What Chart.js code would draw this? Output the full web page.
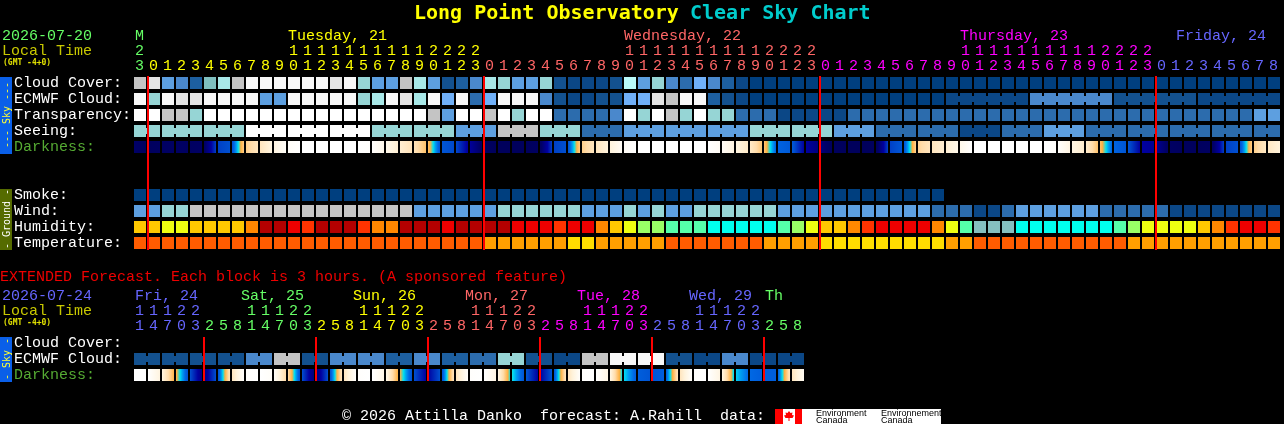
<!DOCTYPE html>
<html>
<head>
<meta charset="utf-8">
<title>Long Point Observatory Clear Sky Chart</title>
<script src="https://cdn.jsdelivr.net/npm/chart.js@4"></script>
<style>html,body{margin:0;padding:0;background:#000}canvas{display:block}</style>
</head>
<body>
<canvas id="c" width="1284" height="424"></canvas>
<script>
// ---------- hours along the two time axes ----------
const mainHours = [23,0,1,2,3,4,5,6,7,8,9,10,11,12,13,14,15,16,17,18,19,20,21,22,23,
  0,1,2,3,4,5,6,7,8,9,10,11,12,13,14,15,16,17,18,19,20,21,22,23,
  0,1,2,3,4,5,6,7,8,9,10,11,12,13,14,15,16,17,18,19,20,21,22,23,
  0,1,2,3,4,5,6,7,8];
const extHours = [11,14,17,20,23,2,5,8,11,14,17,20,23,2,5,8,11,14,17,20,23,2,5,8,
  11,14,17,20,23,2,5,8,11,14,17,20,23,2,5,8,11,14,17,20,23,2,5,8];
const mainDays = ["M","Tuesday, 21","Wednesday, 22","Thursday, 23","Friday, 24"];
const extDays = ["Fri, 24","Sat, 25","Sun, 26","Mon, 27","Tue, 28","Wed, 29","Th"];
const skyRows = ["Cloud Cover:","ECMWF Cloud:","Transparency:","Seeing:","Darkness:"];
const groundRows = ["Smoke:","Wind:","Humidity:","Temperature:"];
const extRows = ["Cloud Cover:","ECMWF Cloud:","Darkness:"];

// ---------- hourly series (levels) ----------
const cloudCover = [12,13,6,5,3,8,10,12,14,14,14,14,14,14,13,14,9,6,6,12,10,6,2,3,5,10,9,6,6,9,2,1,1,1,2,11,6,9,5,4,7,5,3,1,
  0,0,0,0,0,0,0,0,0,0,0,0,0,0,0,0,0,0,0,0,0,0,0,0,0,0,0,0,0,0,0,0,0,0,0,0,0,0];
const ecmwfCloud = [14,9,14,13,13,14,14,14,14,6,6,14,14,14,14,14,9,10,14,13,10,14,7,14,4,7,14,14,14,5,2,1,1,2,2,7,7,13,12,14,14,3,2,1,
  0,0,0,0,0,0,0,0,0,0,0,0,0,0,1,1,1,1,1,1,5,5,5,5,5,5,2,2,2,2,2,2,1,1,1,1,1,1];
const transparency = [15,15,12,12,9,15,15,15,15,15,15,15,15,15,15,15,15,15,15,15,15,12,6,15,15,12,15,9,15,15,4,4,4,4,5,15,9,15,12,9,15,9,9,4,4,4,1,1,1,1,1,4,
  4,4,4,4,4,4,4,4,4,4,4,4,4,4,4,4,4,4,4,4,4,4,4,4,4,4,4,4,6,6];
const seeing = [9,9,9,9,9,9,9,9,15,15,15,15,15,15,15,15,15,9,9,9,9,9,9,6,6,6,12,12,12,9,9,9,4,4,4,6,6,6,6,6,6,6,6,6,9,9,9,9,9,9,6,6,6,
  4,4,4,4,4,4,1,1,1,4,4,4,6,6,6,4,4,4,4,4,4,4,4,4,4,4,4,4,4];
const darknessEdges = [7.0,7.4,7.3,7.2,7.3,7.2,5.2,5.0,2.3,1.6,0.9,0.2,0,0,0,0,0,0.1,0.6,1.2,1.7,2.6,4.9,5.1,6.1,7.2,7.5,7.5,7.5,7.3,5.2,5.0,2.3,1.6,1.0,0.3,0,0,0,0,0,0,0.3,0.9,1.4,2.5,4.6,4.8,6.0,6.6,7.4,7.5,7.5,7.4,5.2,4.9,2.2,1.6,1.2,0.6,0,0,0,0,0,0,0.1,0.8,1.3,2.6,4.6,4.9,6.0,6.2,7.2,7.4,7.4,7.3,5.2,5.0,2.3,1.5,1.0];
const smoke = [0,0,0,0,0,0,0,0,0,0,0,0,0,0,0,0,0,0,0,0,0,0,0,0,0,0,0,0,0,0,0,0,0,0,0,0,0,0,0,0,0,0,0,0,0,0,0,0,0,0,0,0,0,0,0,0,0,0];
const wind = [6,6,9,9,12,12,12,12,12,12,12,12,12,12,12,12,12,12,12,12,6,6,6,6,6,6,9,9,9,9,9,9,6,6,6,9,6,9,6,6,9,9,9,9,9,9,6,6,6,6,6,6,6,6,6,6,6,4,4,4,1,1,4,6,6,6,6,6,6,4,4,4,4,4,1,1,1,1,1,1,1,1];
const humidity = [5,5,4,4,5,5,5,5,6,9,9,8,7,9,9,9,7,6,6,9,9,9,8,9,9,9,9,8,8,8,7,8,8,6,5,4,3,3,2,2,2,1,1,1,1,1,2,3,4,5,5,6,7,8,8,8,8,6,4,2,0,0,0,1,1,1,1,1,1,1,2,3,4,4,4,4,5,6,7,8,8,7];
const temperature = [0,0,0,0,0,0,0,0,0,0,0,0,0,0,0,0,0,0,0,0,0,0,0,0,0,1,1,1,1,1,1,2,2,1,1,1,1,1,0,0,0,0,0,0,0,1,1,1,1,2,2,2,2,2,2,2,2,2,1,1,0,0,0,0,0,0,0,0,0,0,0,1,1,1,1,1,1,1,1,1,1,1];

// ---------- three-hourly extended series ----------
const extEcmwf = [2,2,2,2,2,2,2,2,5,5,12,12,2,2,5,5,5,5,3,3,5,5,3,3,4,4,9,9,2,2,1,1,12,12,14,14,14,14,2,2,1,1,5,5,1,1,1,1];
const extDarknessEdges = [0,0,0.9,2.9,5.0,6.5,5.0,1.6,0.1,0,0.2,2.0,5.0,6.7,5.0,1.6,0.1,0,0.7,3.0,5.0,6.0,5.0,1.6,0.1,0,0.8,3.5,4.9,6.0,4.9,1.6,0.1,0,0.8,3.6,4.7,4.9,4.7,1.6,0.1,0,0.8,3.7,4.5,4.7,4.7,1.6,0.4];
const midnights = [1,25,49,73];
const extMidnights = [5,13,21,29,37,45];

// ---------- colour scales ----------
const skyPalette = ["#003f7f","#0b4786","#13518f","#1d5fa0","#2c6cad","#4a88cc","#5d9fe0","#70b0f8","#7fc0c0","#96d5d5","#a8e8e8","#b8fafa","#c4c4c4","#e4e4e4","#f8f8f8","#ffffff"];
const humidityPalette = ["#85bfbf","#00ffee","#55ffaa","#99ff66","#eeff11","#ffc800","#ff8800","#ff3300","#ee0000","#b40000"];
const temperaturePalette = ["#ff5c00","#ff9f00","#ffdd00"];
const darkRamp = [[0,"#ffffff"],[1,"#fff3dc"],[2,"#ffdcaa"],[3,"#ffb040"],[3.6,"#00e0f0"],[4,"#00a0f0"],[4.5,"#0068e4"],[5,"#0050d0"],[6,"#0000a0"],[7,"#000068"],[8,"#000050"]];
const dayColors = {green:"#66ff66",yellow:"#ffff00",salmon:"#ff6666",magenta:"#ff00ff",blue:"#6666ff"};
const mainDayColors = [dayColors.green,dayColors.yellow,dayColors.salmon,dayColors.magenta,dayColors.blue];
const extDayColors = [dayColors.blue,dayColors.green,dayColors.yellow,dayColors.salmon,dayColors.magenta,dayColors.blue,dayColors.green];

function hex(c){return [1,3,5].map(k=>parseInt(c.substr(k,2),16));}
function darkColor(d){
  for(let k=1;k<darkRamp.length;k++){
    if(d<=darkRamp[k][0]){
      const t=(d-darkRamp[k-1][0])/(darkRamp[k][0]-darkRamp[k-1][0]);
      const a=hex(darkRamp[k-1][1]),b=hex(darkRamp[k][1]);
      return "rgb("+a.map((v,n)=>Math.round(v+(b[n]-v)*t)).join(",")+")";
    }
  }
  return darkRamp[darkRamp.length-1][1];
}

// ---------- layout helpers (scale units: one column = 1, one row = 1) ----------
const CELL = 12/14;
const ROW = {cloud:0,ecmwf:1,transp:2,seeing:3,dark:4,smoke:7,wind:8,hum:9,temp:10,xCloud:16.25,xEcmwf:17.25,xDark:18.25};

function cellSet(label,values,palette,row){
  return {type:'bar',label,order:2,barThickness:12,grouped:false,
    data:values.map((v,i)=>({x:[i,i+CELL],y:row,v})),
    backgroundColor:c=>c.raw?palette[c.raw.v]:'#000'};
}
function linkSet(label,values,palette,row,joined){
  const data=[];
  values.forEach((v,i)=>{ if(i<values.length-1 && joined(i)) data.push({x:[i+CELL,i+1],y:row,v}); });
  return {type:'bar',label,order:2,barThickness:6,grouped:false,data,backgroundColor:c=>c.raw?palette[c.raw.v]:'#000'};
}
function darkSet(label,edges,row){
  const data=[];
  for(let i=0;i<edges.length-1;i++) data.push({x:[i,i+CELL],y:row,a:edges[i],b:edges[i+1]});
  return {type:'bar',label,order:2,barThickness:12,grouped:false,data,
    backgroundColor:c=>{
      if(!c.raw||!c.chart.scales.x) return '#000';
      const xs=c.chart.scales.x,r=c.raw;
      const x0=xs.getPixelForValue(r.x[0]),x1=xs.getPixelForValue(r.x[1]);
      if(!Number.isFinite(x0)||!Number.isFinite(x1)) return '#000';
      const g=c.chart.ctx.createLinearGradient(x0,0,x1,0);
      g.addColorStop(0,darkColor(r.a));
      if(r.a!==r.b){
        darkRamp.forEach(s=>{
          const t=(s[0]-r.a)/(r.b-r.a);
          if(t>0&&t<1) g.addColorStop(t,s[1]);
        });
      }
      g.addColorStop(1,darkColor(r.b));
      return g;
    }};
}
function midnightSet(at,top,bottom){
  return {type:'line',label:'midnight',order:0,borderColor:'#ff0000',borderWidth:2,pointRadius:0,
    data:[{x:at,y:top},{x:at,y:bottom}]};
}

const datasets=[
  ...midnights.map(m=>midnightSet(m,-0.4375,10.4375)),
  ...extMidnights.map(m=>midnightSet(m,15.875,18.625)),
  cellSet("Cloud Cover",cloudCover,skyPalette,ROW.cloud),
  cellSet("ECMWF Cloud",ecmwfCloud,skyPalette,ROW.ecmwf),
  linkSet("ECMWF Cloud 6h",ecmwfCloud,skyPalette,ROW.ecmwf,i=>i>=58&&(i-58)%6!==5),
  cellSet("Transparency",transparency,skyPalette,ROW.transp),
  cellSet("Seeing",seeing,skyPalette,ROW.seeing),
  linkSet("Seeing 3h",seeing,skyPalette,ROW.seeing,i=>(i+1)%3!==2),
  darkSet("Darkness",darknessEdges,ROW.dark),
  cellSet("Smoke",smoke,skyPalette,ROW.smoke),
  cellSet("Wind",wind,skyPalette,ROW.wind),
  cellSet("Humidity",humidity,humidityPalette,ROW.hum),
  cellSet("Temperature",temperature,temperaturePalette,ROW.temp),
  cellSet("Extended ECMWF Cloud",extEcmwf,skyPalette,ROW.xEcmwf),
  linkSet("Extended ECMWF 6h",extEcmwf,skyPalette,ROW.xEcmwf,i=>i%2===0),
  darkSet("Extended Darkness",extDarknessEdges,ROW.xDark)
];

const MONO='"Liberation Mono"';
const TITLE='"DejaVu Sans Mono"';
const textPlugin={
  id:'chartText',
  beforeDatasetsDraw(chart){
    const c=chart.ctx,ys=chart.scales.y;
    c.save();
    c.fillStyle='#0a5fe8';c.fillRect(0,ys.getPixelForValue(ROW.cloud)-6,12,77);
    c.fillRect(0,ys.getPixelForValue(ROW.xCloud)-6,12,45);
    c.fillStyle='#556b00';c.fillRect(0,ys.getPixelForValue(ROW.smoke)-6,12,61);
    c.restore();
  },
  afterDatasetsDraw(chart){
    const c=chart.ctx,xs=chart.scales.x,ys=chart.scales.y;
    const X=i=>xs.getPixelForValue(i);
    const put=(t,x,y,col,font)=>{c.font=font||('15px '+MONO);c.fillStyle=col;c.fillText(t,x,y);};
    c.save();
    c.textBaseline='alphabetic';c.textAlign='left';
    // title
    const bold='bold 20px '+TITLE;
    put("Long Point Observatory",414,19,'#ffff00',bold);
    put("Clear Sky Chart",690,19,'#00cccc',bold);
    // main time axis
    put("2026-07-20",2,40,'#66ff66');
    put("Local Time",2,55,'#c8c800');
    put("(GMT -4+0)",3,65,'#e0e000','bold 8px '+TITLE);
    const mainDayX=[X(0)+1,X(11),X(35),X(59),X(74)+6];
    mainDays.forEach((d,k)=>put(d,mainDayX[k],40,mainDayColors[k]));
    let day=0;
    mainHours.forEach((h,i)=>{
      if(i>0&&h<mainHours[i-1]) day++;
      const col=mainDayColors[day];
      if(h>=10) put(String(h)[0],X(i)+1,55,col);
      put(String(h%10),X(i)+1,70,col);
    });
    // row labels
    const rowY=r=>ys.getPixelForValue(r)+4;
    const sky=[ROW.cloud,ROW.ecmwf,ROW.transp,ROW.seeing,ROW.dark];
    skyRows.forEach((t,k)=>put(t,14,rowY(sky[k]),t==="Darkness:"?'#55aa33':'#ffffff'));
    const gnd=[ROW.smoke,ROW.wind,ROW.hum,ROW.temp];
    groundRows.forEach((t,k)=>put(t,14,rowY(gnd[k]),'#ffffff'));
    // extended
    put("EXTENDED Forecast. Each block is 3 hours. (A sponsored feature)",0,281,'#ee0000');
    put("2026-07-24",2,300,'#6666ff');
    put("Local Time",2,315,'#c8c800');
    put("(GMT -4+0)",3,325,'#e0e000','bold 8px '+TITLE);
    const extDayX=[X(0)+1,X(8)-5,X(16)-5,X(24)-5,X(32)-5,X(40)-5,X(45)+1];
    extDays.forEach((d,k)=>put(d,extDayX[k],300,extDayColors[k]));
    day=0;
    extHours.forEach((h,i)=>{
      if(i>0&&h<extHours[i-1]) day++;
      const col=extDayColors[day];
      if(h>=10) put(String(h)[0],X(i)+1,315,col);
      put(String(h%10),X(i)+1,330,col);
    });
    const ext=[ROW.xCloud,ROW.xEcmwf,ROW.xDark];
    extRows.forEach((t,k)=>put(t,14,rowY(ext[k]),t==="Darkness:"?'#55aa33':'#ffffff'));
    // side strips
    const vert=(t,cy,col)=>{
      c.save();c.translate(9.5,cy);c.rotate(-Math.PI/2);c.textAlign='center';
      c.font='10px '+TITLE;c.fillStyle=col;c.fillText(t,0,0);c.restore();
    };
    vert("--- Sky ---",115,'#ffff33');
    vert("- Ground -",219,'#ffffff');
    vert("- Sky -",359,'#ffff33');
    // footer
    put("\u00a9 2026 Attilla Danko  forecast: A.Rahill  data:",342,420,'#ffffff');
    c.fillStyle='#ffffff';c.fillRect(775,409,166,15);
    c.fillStyle='#ff0000';c.fillRect(775,409,8,15);c.fillRect(795,409,7,15);
    c.beginPath();
    [[789,411],[790.5,413],[792.5,412.5],[792,415],[794,415.5],[792.5,418],[789.5,418],[789.5,421],[788.5,421],[788.5,418],[785.5,418],[784,415.5],[786,415],[785.5,412.5],[787.5,413]]
      .forEach((p,i)=>i?c.lineTo(p[0],p[1]):c.moveTo(p[0],p[1]));
    c.closePath();c.fill();
    const sm='9px "Liberation Sans"';
    put("Environment",816,416,'#000000',sm);put("Canada",816,423,'#000000',sm);
    put("Environnement",881,416,'#000000',sm);put("Canada",881,423,'#000000',sm);
    c.restore();
  }
};

new Chart(document.getElementById('c'),{
  type:'bar',
  data:{datasets},
  plugins:[textPlugin],
  options:{
    indexAxis:'y',
    responsive:false,
    animation:false,
    devicePixelRatio:1,
    layout:{padding:0},
    parsing:{xAxisKey:'x',yAxisKey:'y'},
    plugins:{legend:{display:false},tooltip:{enabled:false},title:{display:false}},
    elements:{bar:{borderWidth:0,inflateAmount:0}},
    scales:{
      x:{type:'linear',display:false,offset:false,min:-134/14,max:(1284-134)/14,grid:{display:false}},
      y:{type:'linear',display:false,offset:false,reverse:true,min:-83/16,max:(424-83)/16,grid:{display:false},stacked:false}
    }
  }
});
</script>
</body>
</html>
